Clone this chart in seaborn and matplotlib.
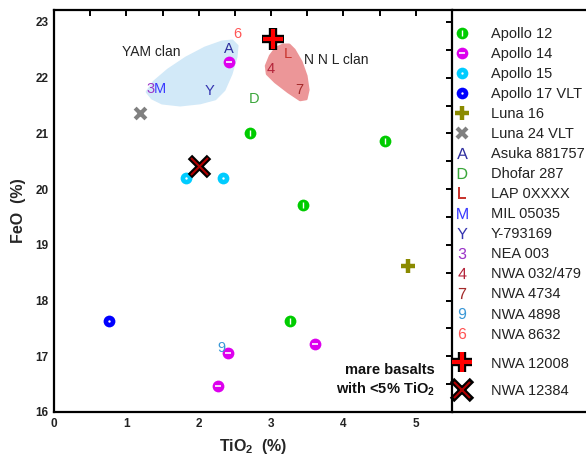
import matplotlib
matplotlib.use('Agg')
import matplotlib.pyplot as plt
import seaborn as sns
import pandas as pd
from matplotlib.lines import Line2D
from matplotlib.patches import Polygon
from matplotlib.ticker import MultipleLocator

# ---------------- data ----------------
apollo12_tio2 = [2.71, 4.58, 3.44, 3.26]
apollo12_feo = [21.01, 20.87, 19.72, 17.63]
apollo14_tio2 = [2.42, 2.40, 3.60, 2.27]
apollo14_feo = [22.28, 17.05, 17.22, 16.47]
apollo15_tio2 = [1.82, 2.33]
apollo15_feo = [20.20, 20.20]
apollo17_tio2 = [0.765]
apollo17_feo = [17.63]
luna16_tio2 = [4.89]
luna16_feo = [18.62]
luna24_tio2 = [1.19]
luna24_feo = [21.37]
nwa12008_tio2 = [3.02]
nwa12008_feo = [22.70]
nwa12384_tio2 = [2.00]
nwa12384_feo = [20.42]

letter_symbols = ['A', 'D', 'L', 'M', 'Y', '3', '4', '7', '9', '6']
letter_names = ['Asuka 881757', 'Dhofar 287', 'LAP 0XXXX', 'MIL 05035', 'Y-793169',
                'NEA 003', 'NWA 032/479', 'NWA 4734', 'NWA 4898', 'NWA 8632']
letter_tio2 = [2.42, 2.76, 3.23, 1.46, 2.15, 1.34, 3.00, 3.39, 2.32, 2.53]
letter_feo = [22.52, 21.62, 22.43, 21.80, 21.77, 21.80, 22.16, 21.78, 17.15, 22.79]
letter_colors = ['#2e2e9e', '#3aa63a', '#c8352e', '#3b3bff', '#3535b0',
                 '#9b35c8', '#b4243a', '#a32a2a', '#3a98d6', '#ff5555']

yam_tio2 = [1.286, 1.355, 1.494, 1.743, 2.019, 2.227, 2.351, 2.448, 2.517, 2.531,
            2.462, 2.324, 2.089, 1.826, 1.577, 1.383]
yam_feo = [21.745, 21.633, 21.544, 21.508, 21.547, 21.619, 21.781, 22.068, 22.373, 22.571,
           22.661, 22.643, 22.535, 22.356, 22.140, 21.925]
nnl_tio2 = [3.167, 3.071, 2.988, 2.932, 2.946, 3.057, 3.237, 3.402, 3.485, 3.513,
            3.485, 3.416, 3.320, 3.250]
nnl_feo = [22.589, 22.535, 22.391, 22.212, 22.068, 21.925, 21.745, 21.602, 21.620, 21.781,
           22.032, 22.284, 22.499, 22.589]

x_ticks = [0, 1, 2, 3, 4, 5]
y_ticks = [16, 17, 18, 19, 20, 21, 22, 23]

# ---------------- style ----------------
sns.set_theme(style='white')
plt.rcParams['font.family'] = ['Liberation Sans', 'DejaVu Sans']
plt.rcParams['mathtext.fontset'] = 'custom'
plt.rcParams['mathtext.rm'] = 'Liberation Sans'
plt.rcParams['mathtext.sf'] = 'Liberation Sans'
plt.rcParams['mathtext.it'] = 'Liberation Sans:italic'
plt.rcParams['mathtext.bf'] = 'Liberation Sans:bold'

W, H = 586, 457
fig = plt.figure(figsize=(W / 100, H / 100), dpi=100)
L, R, B, T = 54, 452, 412, 10
ax = fig.add_axes([L / W, (H - B) / H, (R - L) / W, (B - T) / H])
ax.set_facecolor('white')

# shaded clans
ax.add_patch(Polygon(list(zip(yam_tio2, yam_feo)), closed=True, facecolor='#d2e9f8',
                     edgecolor='#d2e9f8', lw=2, zorder=0.5, joinstyle='round'))
ax.add_patch(Polygon(list(zip(nnl_tio2, nnl_feo)), closed=True, facecolor='#ec9698',
                     edgecolor='#ec9698', lw=2, zorder=0.5, joinstyle='round'))

def df(x, y):
    return pd.DataFrame({'TiO2': x, 'FeO': y})

circ = 72
sns.scatterplot(data=df(apollo12_tio2, apollo12_feo), x='TiO2', y='FeO', ax=ax,
                color='#00cc00', s=circ, linewidth=0, marker='o', zorder=3)
sns.scatterplot(data=df(apollo12_tio2, apollo12_feo), x='TiO2', y='FeO', ax=ax,
                color='white', s=14, linewidth=1.0, marker='|', zorder=4)
sns.scatterplot(data=df(apollo14_tio2, apollo14_feo), x='TiO2', y='FeO', ax=ax,
                color='#dd00ee', s=circ, linewidth=0, marker='o', zorder=3)
sns.scatterplot(data=df(apollo14_tio2, apollo14_feo), x='TiO2', y='FeO', ax=ax,
                color='white', s=20, linewidth=1.2, marker='_', zorder=4)
sns.scatterplot(data=df(apollo15_tio2, apollo15_feo), x='TiO2', y='FeO', ax=ax,
                color='#00ccff', s=circ, linewidth=0, marker='o', zorder=3)
sns.scatterplot(data=df(apollo15_tio2, apollo15_feo), x='TiO2', y='FeO', ax=ax,
                color='white', s=3, linewidth=0, marker='o', zorder=4)
sns.scatterplot(data=df(apollo17_tio2, apollo17_feo), x='TiO2', y='FeO', ax=ax,
                color='#0000ff', s=circ, linewidth=0, marker='o', zorder=3)
sns.scatterplot(data=df(apollo17_tio2, apollo17_feo), x='TiO2', y='FeO', ax=ax,
                color='white', s=3, linewidth=0, marker='o', zorder=4)
sns.scatterplot(data=df(luna16_tio2, luna16_feo), x='TiO2', y='FeO', ax=ax,
                color='#8a8a00', s=110, linewidth=3.2, marker='+', zorder=3)
sns.scatterplot(data=df(luna24_tio2, luna24_feo), x='TiO2', y='FeO', ax=ax,
                color='#808080', s=60, linewidth=3.0, marker='x', zorder=3)
sns.scatterplot(data=df(nwa12008_tio2, nwa12008_feo), x='TiO2', y='FeO', ax=ax,
                color='black', s=230, linewidth=6, marker='+', zorder=5)
sns.scatterplot(data=df(nwa12008_tio2, nwa12008_feo), x='TiO2', y='FeO', ax=ax,
                color='#ff0000', s=190, linewidth=3, marker='+', zorder=6)
sns.scatterplot(data=df(nwa12384_tio2, nwa12384_feo), x='TiO2', y='FeO', ax=ax,
                color='black', s=190, linewidth=4.5, marker='x', zorder=5)
sns.scatterplot(data=df(nwa12384_tio2, nwa12384_feo), x='TiO2', y='FeO', ax=ax,
                color='#b00000', s=150, linewidth=1.5, marker='x', zorder=6)

for sym, xv, yv, c in zip(letter_symbols, letter_tio2, letter_feo, letter_colors):
    ax.text(xv, yv, sym, color=c, fontsize=10.5, ha='center', va='center', zorder=4)

ax.text(1.34, 22.47, 'YAM clan', fontsize=10, color='#222222', ha='center', va='center')
ax.text(3.90, 22.32, 'N N L clan', fontsize=10, color='#222222', ha='center', va='center')
ax.text(5.26, 16.56, 'mare basalts\nwith <5% TiO$_\\mathbf{2}$', fontsize=10.5,
        fontweight='bold', color='#111111', ha='right', va='center', linespacing=1.3)

ax.set_xlim(0, 5.5)
ax.set_ylim(16, 23.215)
ax.set_xticks(x_ticks)
ax.set_yticks(y_ticks)
ax.xaxis.set_minor_locator(MultipleLocator(0.5))
ax.yaxis.set_minor_locator(MultipleLocator(0.5))
ax.tick_params(which='both', direction='in', top=True, right=True, length=4, width=1.4,
               color='black', labelsize=8.5, labelcolor='#222222', pad=4)
for lab in ax.get_xticklabels() + ax.get_yticklabels():
    lab.set_fontweight('bold')
for sp in ax.spines.values():
    sp.set_linewidth(1.6)
    sp.set_color('black')
ax.set_xlabel('TiO$_\\mathbf{2}$  (%)', fontsize=11.5, fontweight='bold', labelpad=5)
ax.set_ylabel('FeO  (%)', fontsize=11.5, fontweight='bold', labelpad=7)

# extend top and bottom frame lines across the legend area
fig.add_artist(Line2D([R / W, 1], [(H - T) / H, (H - T) / H], color='black', lw=1.6,
                      transform=fig.transFigure))
fig.add_artist(Line2D([R / W, 1], [(H - B) / H, (H - B) / H], color='black', lw=1.6,
                      transform=fig.transFigure))

# ---------------- legend ----------------
def mk(marker, color, ms, mew=0, **kw):
    return Line2D([], [], linestyle='none', marker=marker, color=color, markersize=ms,
                  markeredgewidth=mew, **kw)

h = [
    (mk('o', '#00cc00', 8.4), mk('|', 'white', 3.7, 1.0)),
    (mk('o', '#dd00ee', 8.4), mk('_', 'white', 4.5, 1.2)),
    (mk('o', '#00ccff', 8.4), mk('o', 'white', 1.7)),
    (mk('o', '#0000ff', 8.4), mk('o', 'white', 1.7)),
    mk('+', '#8a8a00', 10.5, 3.2),
    mk('x', '#808080', 7.7, 3.0),
]
labels = ['Apollo 12', 'Apollo 14', 'Apollo 15', 'Apollo 17 VLT', 'Luna 16', 'Luna 24 VLT']
for sym, c, name in zip(letter_symbols, letter_colors, letter_names):
    h.append(mk('$\\mathsf{%s}$' % sym, c, 8.0, 0))
    labels.append(name)

leg1 = fig.legend(h, labels, loc='upper left', bbox_to_anchor=(455 / W, (H - 26.8) / H),
                  bbox_transform=fig.transFigure, frameon=False, fontsize=10.5,
                  handlelength=1.0, handletextpad=1.45, labelspacing=0.415, borderpad=0,
                  borderaxespad=0)
for t in leg1.get_texts():
    t.set_color('#222222')

h2 = [(mk('+', 'black', 15, 6), mk('+', '#ff0000', 13.8, 3)),
      (mk('x', 'black', 13.8, 4.5), mk('x', '#b00000', 12.2, 1.5))]
leg2 = fig.legend(h2, ['NWA 12008', 'NWA 12384'], loc='upper left',
                  bbox_to_anchor=(455 / W, (H - 356.5) / H), bbox_transform=fig.transFigure,
                  frameon=False, fontsize=10.5, handlelength=1.0, handletextpad=1.45,
                  labelspacing=0.95, borderpad=0, borderaxespad=0)
for t in leg2.get_texts():
    t.set_color('#222222')

fig.savefig('out.png', dpi=100)
